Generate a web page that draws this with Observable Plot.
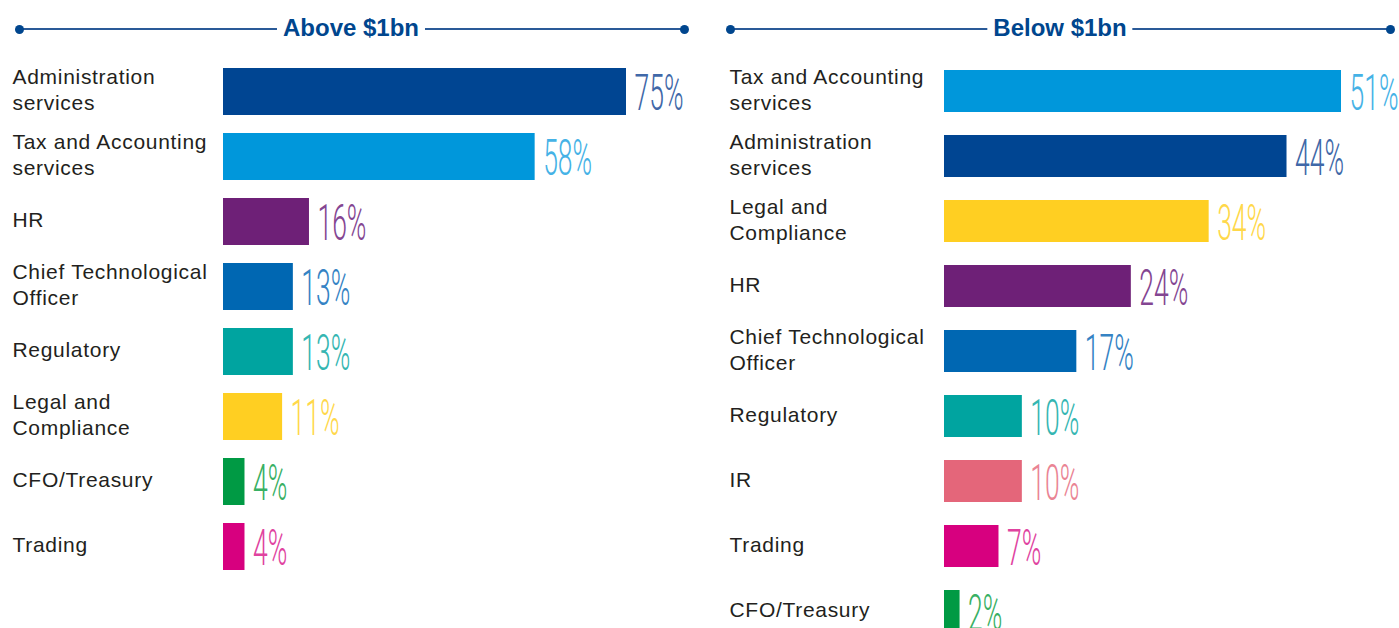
<!DOCTYPE html>
<html>
<head>
<meta charset="utf-8">
<script src="https://cdn.jsdelivr.net/npm/d3@7"></script>
<script src="https://cdn.jsdelivr.net/npm/@observablehq/plot@0.6"></script>
<style>
  html, body { margin: 0; padding: 0; background: #fff; }
  #wrap { position: relative; width: 1399px; height: 628px; overflow: hidden; }
  #wrap svg { position: absolute; top: 0; overflow: visible; }
  .hline { position: absolute; height: 2px; background: #2a5a98; }
  .hdot { position: absolute; width: 9px; height: 9px; border-radius: 50%; background: #00468e; }
  .htitle { position: absolute; transform: translate(-50%, -50%); background: #fff; padding: 0 6px;
            font-family: "Liberation Sans", Arial, sans-serif; font-weight: bold; font-size: 24px;
            color: #00468e; white-space: nowrap; line-height: 1; }
</style>
</head>
<body>
<div id="wrap"></div>
<script>
// ---- data ----
const titles = ["Above $1bn", "Below $1bn"];

const aboveCategories = ["Administration\nservices", "Tax and Accounting\nservices", "HR", "Chief Technological\nOfficer", "Regulatory", "Legal and\nCompliance", "CFO/Treasury", "Trading"];
const aboveValues = [75, 58, 16, 13, 13, 11, 4, 4];

const belowCategories = ["Tax and Accounting\nservices", "Administration\nservices", "Legal and\nCompliance", "HR", "Chief Technological\nOfficer", "Regulatory", "IR", "Trading", "CFO/Treasury"];
const belowValues = [51, 44, 34, 24, 17, 10, 10, 7, 2];

const categoryColors = {
  "Administration\nservices": "#004592",
  "Tax and Accounting\nservices": "#0097db",
  "HR": "#6e2077",
  "Chief Technological\nOfficer": "#0067b2",
  "Regulatory": "#00a4a0",
  "Legal and\nCompliance": "#ffcf22",
  "CFO/Treasury": "#009a44",
  "Trading": "#d7007f",
  "IR": "#e4667a"
};
const valueColors = {
  "Administration\nservices": "#4068a8",
  "Tax and Accounting\nservices": "#45b2e6",
  "HR": "#8446929",
  "Chief Technological\nOfficer": "#3583c4",
  "Regulatory": "#35b6b2",
  "Legal and\nCompliance": "#ffd84a",
  "CFO/Treasury": "#38b064",
  "Trading": "#e043a0",
  "IR": "#ea8494"
};
valueColors["HR"] = "#844692";

const aboveData = aboveCategories.map((c, i) => ({cat: c, value: aboveValues[i]}));
const belowData = belowCategories.map((c, i) => ({cat: c, value: belowValues[i]}));

function panel(data, cats, opts) {
  const svg = Plot.plot({
    width: opts.width,
    height: 628,
    margin: 0,
    style: {background: "transparent", overflow: "visible"},
    x: {domain: [0, opts.max], range: opts.xRange, axis: null},
    y: {domain: cats, range: opts.yRange, paddingInner: opts.pad, paddingOuter: opts.pad / 2, axis: null},
    color: {type: "identity"},
    marks: [
      Plot.barX(data, {x: "value", y: "cat", fill: d => categoryColors[d.cat]}),
      Plot.text(data, {
        y: "cat", text: "cat", frameAnchor: "left", textAnchor: "start", lineAnchor: "middle",
        dx: opts.labelDx, dy: -3, fontSize: 21, lineHeight: 1.24, fill: "#231f20",
        fontFamily: "Liberation Sans, Arial, sans-serif"
      }),
      Plot.text(data, {
        x: "value", y: "cat", text: d => d.value + "%", textAnchor: "start", lineAnchor: "middle",
        dx: 8, dy: 2, fontSize: 50, fontWeight: 300, fontFamily: "Roboto, DejaVu Sans, sans-serif",
        fill: d => valueColors[d.cat]
      })
    ]
  });
  svg.style.left = opts.left + "px";
  const groups = svg.querySelectorAll('g[aria-label="text"]');
  // slightly spaced category labels
  if (groups[0]) groups[0].setAttribute("letter-spacing", "0.7");
  // condense the light value labels horizontally
  if (groups[1]) groups[1].querySelectorAll("text").forEach(t => {
    const tr = t.getAttribute("transform") || "";
    t.setAttribute("transform", tr + " scale(0.53,1)");
  });
  return svg;
}

const wrap = document.getElementById("wrap");
wrap.appendChild(panel(aboveData, aboveCategories, {
  width: 700, left: 0, max: 75, xRange: [223, 626], yRange: [59, 579], pad: 0.277, labelDx: 12
}));
wrap.appendChild(panel(belowData, belowCategories, {
  width: 699, left: 700, max: 51, xRange: [244, 641], yRange: [58.5, 643.5], pad: 0.354, labelDx: 29
}));

// ---- headers ----
function header(x0, x1, cx, title) {
  const line = document.createElement("div");
  line.className = "hline";
  line.style.left = x0 + "px"; line.style.width = (x1 - x0) + "px"; line.style.top = "28px";
  wrap.appendChild(line);
  [x0, x1].forEach(x => {
    const d = document.createElement("div");
    d.className = "hdot";
    d.style.left = (x - 4.5) + "px"; d.style.top = "24.5px";
    wrap.appendChild(d);
  });
  const t = document.createElement("div");
  t.className = "htitle";
  t.textContent = title;
  t.style.left = cx + "px"; t.style.top = "28px";
  wrap.appendChild(t);
}
header(19, 684, 351, titles[0]);
header(730, 1390, 1060, titles[1]);
</script>
</body>
</html>
